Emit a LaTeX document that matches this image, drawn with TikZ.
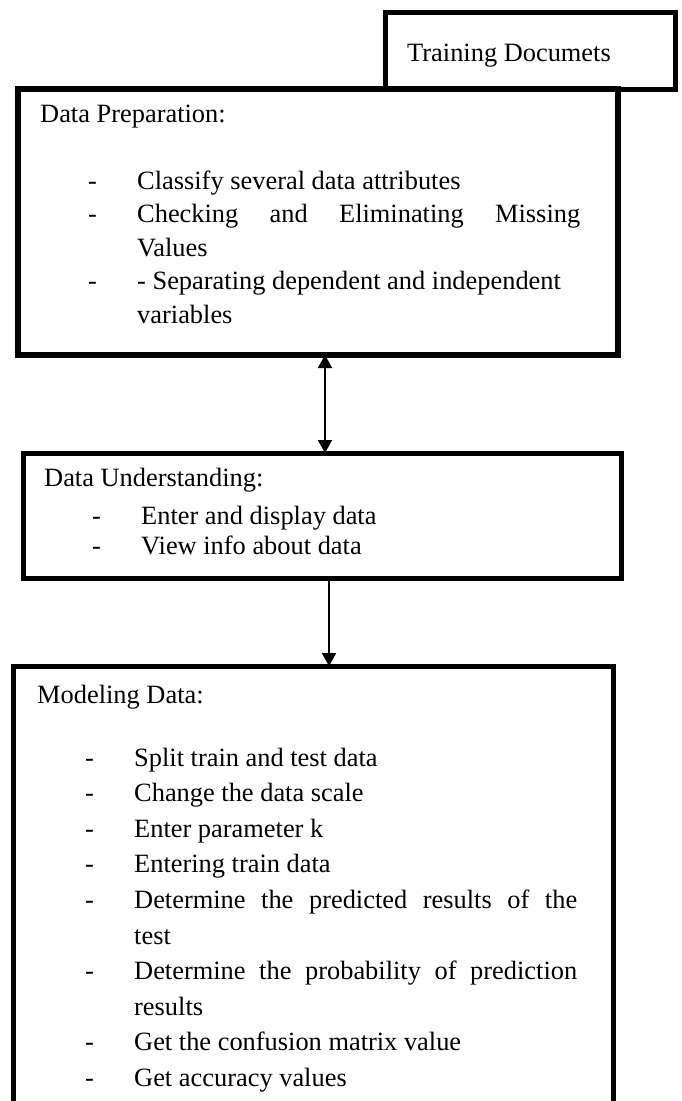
\documentclass[tikz,border=0pt]{standalone}
\usepackage{fontspec}
\setmainfont{Liberation Serif}
\usetikzlibrary{arrows.meta}
\newlength\dashin \setlength\dashin{48pt}
\newlength\itemin \setlength\itemin{97pt}
\newcommand{\itm}[1]{\hspace*{\dashin}\makebox[\dimexpr\itemin-\dashin\relax][l]{-}#1}
\newcommand{\cnt}[1]{\hspace*{\itemin}#1}
\newcommand{\spread}[1]{{\spaceskip=0.25em plus 1fil\makebox[443pt][s]{#1}}}
\begin{document}
\begin{tikzpicture}[x=1pt, y=-1pt,
  box/.style={draw, line width=5pt, outer sep=0pt, inner sep=0pt, anchor=north west},
  txt/.style={anchor=base west, inner sep=0pt, text width=560pt, align=flush left},
  link/.style={line width=2pt, -{Triangle[length=13pt,width=14pt]}}]
  \useasboundingbox (0,0) rectangle (681,1101);
  \clip (0,0) rectangle (681,1101);
  % boxes
  \node[box, minimum width=290pt, minimum height=77pt] (train) at (385,12) {};
  \node[box, line width=6pt, minimum width=600pt, minimum height=266pt] (prep) at (18,89) {};
  \node[box, minimum width=598pt, minimum height=125pt] (under) at (23,453) {};
  \node[box, minimum width=600pt, minimum height=500pt] (model) at (13,666) {};
  % texts
  \node[txt, font=\fontsize{26.4}{30}\selectfont] (traintext) at (407,61) {Training Documets};
  \node[txt, font=\fontsize{26.4}{33.5}\selectfont] (preptext) at (40,122) {Data Preparation:\\[33.5pt]
    \itm{Classify several data attributes}\\
    \itm{\spread{Checking and Eliminating Missing}}\\
    \cnt{Values}\\
    \itm{- Separating dependent and independent}\\
    \cnt{variables}};
  \node[txt, font=\fontsize{26.4}{30}\selectfont] (undertext) at (44,486) {Data Understanding:\\[8pt]
    \itm{Enter and display data}\\
    \itm{View info about data}};
  \node[txt, font=\fontsize{26.4}{35.6}\selectfont] (modeltext) at (37,703) {Modeling Data:\\[27.4pt]
    \itm{Split train and test data}\\
    \itm{Change the data scale}\\
    \itm{Enter parameter k}\\
    \itm{Entering train data}\\
    \itm{\spread{Determine the predicted results of the}}\\
    \cnt{test}\\
    \itm{\spread{Determine the probability of prediction}}\\
    \cnt{results}\\
    \itm{Get the confusion matrix value}\\
    \itm{Get accuracy values}};
  % connectors
  \coordinate (a1) at (325,0);
  \coordinate (a2) at (329,0);
  \draw[link, {Triangle[length=13pt,width=14pt]}-{Triangle[length=13pt,width=14pt]}] (prep.south -| a1) -- (under.north -| a1);
  \draw[link] (under.south -| a2) -- (model.north -| a2);
\end{tikzpicture}
\end{document}
